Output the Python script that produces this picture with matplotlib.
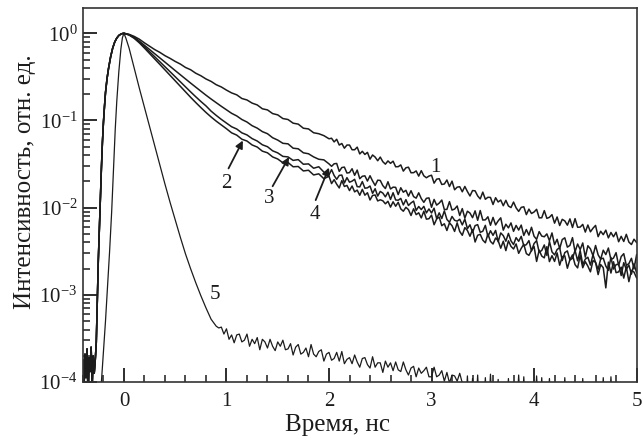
import numpy as np
import matplotlib
matplotlib.use("Agg")
import matplotlib.pyplot as plt
from matplotlib.ticker import LogLocator, MultipleLocator, NullFormatter

plt.rcParams['font.family'] = ['Liberation Serif', 'DejaVu Serif']
plt.rcParams['mathtext.fontset'] = 'custom'
plt.rcParams['mathtext.rm'] = 'Liberation Serif'

# ---------------- data (log10 of intensity) ----------------
# shared onset (before and during the rise) of curves 1-4
rise_t = [-0.40, -0.39, -0.38, -0.37, -0.36, -0.35, -0.34, -0.33, -0.32, -0.31,
          -0.30, -0.29, -0.28, -0.27, -0.265, -0.26, -0.25, -0.24, -0.23, -0.22,
          -0.21, -0.20, -0.19, -0.18, -0.165, -0.15, -0.13, -0.11, -0.09, -0.07,
          -0.05, -0.03, -0.015]
rise_log = [-3.75, -4.10, -3.68, -3.95, -3.62, -4.20, -3.72, -3.88, -3.60, -4.05,
            -3.70, -3.90, -3.75, -3.55, -3.30, -3.00, -2.60, -2.25, -1.90, -1.55,
            -1.25, -1.02, -0.84, -0.68, -0.52, -0.40, -0.27, -0.17, -0.10, -0.055,
            -0.025, -0.010, -0.003]

# early decay of curves 1-4: every 0.05 ns from 0 to 1.95 ns
early_t = np.linspace(0.0, 1.95, 40)
# late decay of curves 1-4: every 0.025 ns from 2 to 5 ns
late_t = np.linspace(2.0, 5.0, 121)

curve1_early = [
    0.000, -0.012, -0.036, -0.068, -0.110, -0.148, -0.187, -0.219, -0.257, -0.288,
    -0.323, -0.353, -0.392, -0.418, -0.458, -0.487, -0.524, -0.552, -0.590, -0.616,
    -0.652, -0.684, -0.706, -0.748, -0.765, -0.801, -0.822, -0.866, -0.879, -0.921,
    -0.936, -0.978, -0.989, -1.031, -1.042, -1.089, -1.097, -1.141, -1.152, -1.174]
curve1_late = [
    -1.210, -1.204, -1.246, -1.216, -1.282, -1.264, -1.318, -1.282, -1.282, -1.336,
    -1.336, -1.306, -1.384, -1.354, -1.390, -1.366, -1.444, -1.396, -1.420, -1.462,
    -1.420, -1.473, -1.501, -1.464, -1.492, -1.467, -1.531, -1.530, -1.510, -1.581,
    -1.543, -1.536, -1.600, -1.599, -1.579, -1.638, -1.576, -1.635, -1.657, -1.638,
    -1.628, -1.719, -1.673, -1.668, -1.734, -1.729, -1.683, -1.758, -1.696, -1.795,
    -1.765, -1.760, -1.818, -1.757, -1.815, -1.866, -1.804, -1.807, -1.865, -1.900,
    -1.822, -1.904, -1.881, -1.883, -1.964, -1.886, -1.935, -1.913, -1.978, -1.916,
    -1.981, -1.999, -1.936, -2.002, -2.043, -1.997, -1.990, -2.080, -2.017, -2.067,
    -2.050, -2.019, -2.117, -2.116, -2.034, -2.123, -2.111, -2.080, -2.178, -2.107,
    -2.205, -2.134, -2.152, -2.201, -2.129, -2.228, -2.126, -2.225, -2.223, -2.192,
    -2.280, -2.199, -2.277, -2.236, -2.204, -2.333, -2.271, -2.310, -2.258, -2.347,
    -2.285, -2.334, -2.282, -2.391, -2.329, -2.388, -2.306, -2.395, -2.423, -2.362,
    -2.400]

curve2_early = [
    0.000, -0.020, -0.058, -0.110, -0.170, -0.232, -0.294, -0.357, -0.420, -0.484,
    -0.547, -0.610, -0.672, -0.734, -0.794, -0.852, -0.908, -0.960, -1.008, -1.052,
    -1.095, -1.142, -1.168, -1.215, -1.236, -1.281, -1.305, -1.352, -1.371, -1.418,
    -1.442, -1.485, -1.482, -1.531, -1.528, -1.579, -1.571, -1.625, -1.612, -1.668]
curve2_late = [
    -1.640, -1.724, -1.679, -1.731, -1.774, -1.690, -1.757, -1.745, -1.804, -1.752,
    -1.819, -1.799, -1.858, -1.790, -1.857, -1.829, -1.912, -1.860, -1.855, -1.923,
    -1.910, -1.921, -1.956, -1.927, -1.994, -1.933, -1.984, -1.939, -2.014, -2.041,
    -1.996, -2.023, -2.090, -2.013, -2.080, -2.059, -2.118, -2.041, -2.132, -2.127,
    -2.086, -2.196, -2.130, -2.108, -2.207, -2.185, -2.262, -2.174, -2.207, -2.273,
    -2.174, -2.273, -2.317, -2.229, -2.262, -2.328, -2.251, -2.394, -2.317, -2.306,
    -2.372, -2.403, -2.301, -2.387, -2.417, -2.348, -2.379, -2.465, -2.385, -2.493,
    -2.380, -2.444, -2.474, -2.416, -2.524, -2.467, -2.420, -2.527, -2.547, -2.490,
    -2.445, -2.617, -2.488, -2.555, -2.576, -2.448, -2.619, -2.551, -2.617, -2.519,
    -2.660, -2.562, -2.553, -2.695, -2.596, -2.542, -2.654, -2.691, -2.547, -2.689,
    -2.620, -2.671, -2.736, -2.607, -2.627, -2.768, -2.653, -2.689, -2.920, -2.625,
    -2.750, -2.621, -2.746, -2.737, -2.682, -2.808, -2.678, -2.849, -2.719, -2.739,
    -2.805]

curve3_early = [
    0.000, -0.018, -0.052, -0.100, -0.155, -0.212, -0.268, -0.325, -0.383, -0.441,
    -0.499, -0.558, -0.616, -0.672, -0.728, -0.782, -0.833, -0.893, -0.942, -0.988,
    -1.030, -1.072, -1.098, -1.142, -1.166, -1.208, -1.236, -1.279, -1.301, -1.348,
    -1.372, -1.412, -1.418, -1.458, -1.449, -1.502, -1.498, -1.548, -1.531, -1.592]
curve3_late = [
    -1.624, -1.564, -1.631, -1.675, -1.630, -1.626, -1.717, -1.656, -1.708, -1.696,
    -1.675, -1.759, -1.762, -1.701, -1.777, -1.773, -1.752, -1.836, -1.783, -1.867,
    -1.814, -1.833, -1.876, -1.823, -1.906, -1.829, -1.912, -1.915, -1.894, -1.969,
    -1.908, -1.975, -1.946, -1.925, -2.032, -1.987, -2.022, -1.985, -2.060, -2.015,
    -2.061, -2.006, -2.126, -2.060, -2.125, -2.037, -2.135, -2.168, -2.101, -2.145,
    -2.155, -2.133, -2.198, -2.131, -2.241, -2.197, -2.284, -2.206, -2.195, -2.283,
    -2.271, -2.203, -2.333, -2.265, -2.318, -2.261, -2.391, -2.290, -2.321, -2.385,
    -2.295, -2.381, -2.423, -2.344, -2.386, -2.329, -2.437, -2.424, -2.378, -2.497,
    -2.412, -2.378, -2.511, -2.491, -2.428, -2.548, -2.387, -2.507, -2.542, -2.480,
    -2.459, -2.607, -2.516, -2.496, -2.601, -2.581, -2.490, -2.610, -2.491, -2.653,
    -2.590, -2.569, -2.659, -2.540, -2.630, -2.707, -2.587, -2.580, -2.670, -2.719,
    -2.571, -2.704, -2.654, -2.647, -2.779, -2.631, -2.708, -2.658, -2.763, -2.644,
    -2.748]

curve4_early = [
    0.000, -0.016, -0.046, -0.090, -0.138, -0.186, -0.234, -0.283, -0.331, -0.380,
    -0.428, -0.476, -0.524, -0.571, -0.618, -0.664, -0.710, -0.754, -0.796, -0.838,
    -0.878, -0.918, -0.948, -0.989, -1.018, -1.060, -1.088, -1.128, -1.152, -1.198,
    -1.225, -1.262, -1.268, -1.318, -1.325, -1.371, -1.382, -1.418, -1.445, -1.452]
curve4_late = [
    -1.498, -1.526, -1.497, -1.493, -1.584, -1.540, -1.535, -1.603, -1.598, -1.554,
    -1.629, -1.569, -1.668, -1.640, -1.635, -1.695, -1.634, -1.694, -1.745, -1.685,
    -1.688, -1.747, -1.781, -1.703, -1.786, -1.765, -1.767, -1.850, -1.772, -1.823,
    -1.801, -1.868, -1.806, -1.873, -1.891, -1.830, -1.896, -1.939, -1.893, -1.888,
    -1.996, -1.906, -1.971, -1.948, -1.913, -2.022, -2.020, -1.931, -2.028, -2.016,
    -1.981, -2.090, -2.011, -2.120, -2.041, -2.062, -2.115, -2.037, -2.145, -2.033,
    -2.142, -2.140, -2.105, -2.202, -2.112, -2.198, -2.152, -2.117, -2.258, -2.190,
    -2.232, -2.175, -2.272, -2.204, -2.257, -2.200, -2.319, -2.251, -2.315, -2.225,
    -2.328, -2.364, -2.275, -2.326, -2.334, -2.301, -2.379, -2.290, -2.424, -2.363,
    -2.469, -2.366, -2.346, -2.453, -2.433, -2.344, -2.506, -2.417, -2.481, -2.405,
    -2.568, -2.437, -2.473, -2.551, -2.434, -2.541, -2.591, -2.488, -2.538, -2.463,
    -2.597, -2.578, -2.516, -2.665, -2.561, -2.528, -2.662, -2.642, -2.581, -2.702,
    -2.542]

# curve 5 (instrument response): rise and fast decay
curve5_t = [-0.24, -0.22, -0.20, -0.18, -0.16, -0.14, -0.12, -0.10, -0.085, -0.07,
            -0.05, -0.03, -0.015, 0.0, 0.02, 0.05, 0.10, 0.15, 0.20, 0.25,
            0.30, 0.35, 0.40, 0.45, 0.50, 0.55, 0.60, 0.65, 0.70, 0.75,
            0.80, 0.85, 0.90]
curve5_log = [-4.30, -4.00, -3.65, -3.30, -2.90, -2.50, -2.05, -1.50, -1.10, -0.78,
              -0.44, -0.18, -0.05, 0.00, -0.06, -0.17, -0.40, -0.63, -0.85, -1.07,
              -1.29, -1.51, -1.73, -1.94, -2.14, -2.34, -2.53, -2.70, -2.86, -3.01,
              -3.15, -3.28, -3.36]
# curve 5 tail: every 0.025 ns from 0.925 to 5 ns (-4.5 = below the axis floor)
curve5_tail_t = np.linspace(0.925, 5.0, 164)
curve5_tail = [
    -3.38, -3.37, -3.45, -3.39, -3.51, -3.46, -3.55, -3.46, -3.45, -3.54,
    -3.52, -3.45, -3.59, -3.51, -3.56, -3.49, -3.63, -3.51, -3.54, -3.61,
    -3.51, -3.59, -3.64, -3.54, -3.59, -3.52, -3.63, -3.62, -3.56, -3.69,
    -3.60, -3.57, -3.68, -3.66, -3.61, -3.71, -3.57, -3.68, -3.71, -3.65,
    -3.63, -3.76, -3.68, -3.66, -3.75, -3.73, -3.66, -3.76, -3.65, -3.79,
    -3.74, -3.72, -3.79, -3.69, -3.77, -3.83, -3.73, -3.72, -3.80, -3.84,
    -3.71, -3.83, -3.78, -3.78, -3.89, -3.76, -3.83, -3.78, -3.87, -3.77,
    -3.86, -3.88, -3.77, -3.86, -3.92, -3.84, -3.82, -3.94, -3.84, -3.90,
    -3.87, -3.83, -3.94, -3.94, -3.83, -3.94, -3.92, -3.87, -3.99, -3.89,
    -4.01, -3.92, -3.93, -3.99, -3.90, -4.01, -4.50, -3.93, -4.50, -3.96,
    -4.50, -3.92, -4.50, -4.50, -3.95, -4.50, -3.91, -4.50, -4.50, -3.97,
    -4.50, -4.50, -4.50, -3.96, -4.50, -4.50, -4.50, -3.92, -4.50, -3.94,
    -4.50, -4.50, -4.50, -4.50, -3.93, -4.50, -3.95, -4.50, -4.50, -3.96,
    -4.50, -4.50, -4.50, -4.50, -4.50, -3.95, -4.50, -4.50, -4.50, -4.50,
    -4.50, -4.50, -3.96, -4.50, -4.50, -4.50, -4.50, -4.50, -4.50, -4.50,
    -3.95, -4.50, -4.50, -3.94, -4.50, -4.50, -4.50, -4.50, -4.50, -4.50,
    -4.50, -4.50, -4.50, -4.50]

curve_labels = ['1', '2', '3', '4', '5']
label_t = [3.04, 1.00, 1.42, 1.86, 0.89]
label_y = [0.029, 0.019, 0.0128, 0.0084, 0.0010]
# arrows: (tail t, tail y) -> (tip t, tip y) for curves 2, 3, 4
arrow_tail = [(1.02, 0.0282), (1.45, 0.0176), (1.87, 0.0122)]
arrow_tip = [(1.16, 0.0589), (1.61, 0.038), (2.00, 0.0288)]

x_label = 'Время, нс'
y_label = 'Интенсивность, отн. ед.'

# ---------------- figure ----------------
fig = plt.figure(figsize=(6.43, 4.44), dpi=100)
ax = fig.add_axes([0.129, 0.1396, 0.861, 0.8424])

ink = '#1c1c1c'
rise_t_arr = np.array(rise_t)
rise_v = 10.0 ** np.array(rise_log)
for early, late in ((curve1_early, curve1_late), (curve2_early, curve2_late),
                    (curve3_early, curve3_late), (curve4_early, curve4_late)):
    t = np.concatenate([rise_t_arr, early_t, late_t])
    v = np.concatenate([rise_v, 10.0 ** np.array(early), 10.0 ** np.array(late)])
    ax.plot(t, v, color=ink, lw=1.1)
t5 = np.concatenate([np.array(curve5_t), curve5_tail_t])
v5 = 10.0 ** np.concatenate([np.array(curve5_log), np.array(curve5_tail)])
ax.plot(t5, v5, color=ink, lw=0.9)

ax.set_yscale('log')
ax.set_xlim(-0.40, 5.0)
ax.set_ylim(1e-4, 1.95)

ax.xaxis.set_major_locator(MultipleLocator(1))
ax.xaxis.set_minor_locator(MultipleLocator(0.2))
ax.yaxis.set_major_locator(LogLocator(base=10, numticks=10))
ax.yaxis.set_minor_locator(LogLocator(base=10, subs=np.arange(2, 10), numticks=20))
ax.yaxis.set_minor_formatter(NullFormatter())

ax.tick_params(which='both', direction='in', top=False, right=False, colors=ink,
               labelsize=15)
ax.tick_params(which='major', length=10, width=1.3)
ax.tick_params(which='minor', length=5, width=1.1)
ax.tick_params(axis='x', which='major', pad=7)
ax.tick_params(axis='y', which='major', pad=4)
for s in ax.spines.values():
    s.set_linewidth(1.2)
    s.set_color('#333333')

ax.set_xlabel(x_label, fontsize=18, color=ink, labelpad=2, x=0.46)
ax.set_ylabel(y_label, fontsize=18, color=ink, labelpad=2, y=0.535)

for lab, lt, ly in zip(curve_labels, label_t, label_y):
    ax.text(lt, ly, lab, fontsize=15, color=ink, ha='center', va='center')
for (t0, y0), (t1, y1) in zip(arrow_tail, arrow_tip):
    ax.annotate('', xy=(t1, y1), xytext=(t0, y0),
                arrowprops=dict(arrowstyle='-|>', color=ink, lw=1.3,
                                mutation_scale=11, shrinkA=0, shrinkB=0))

fig.savefig('out.png', dpi=100)
